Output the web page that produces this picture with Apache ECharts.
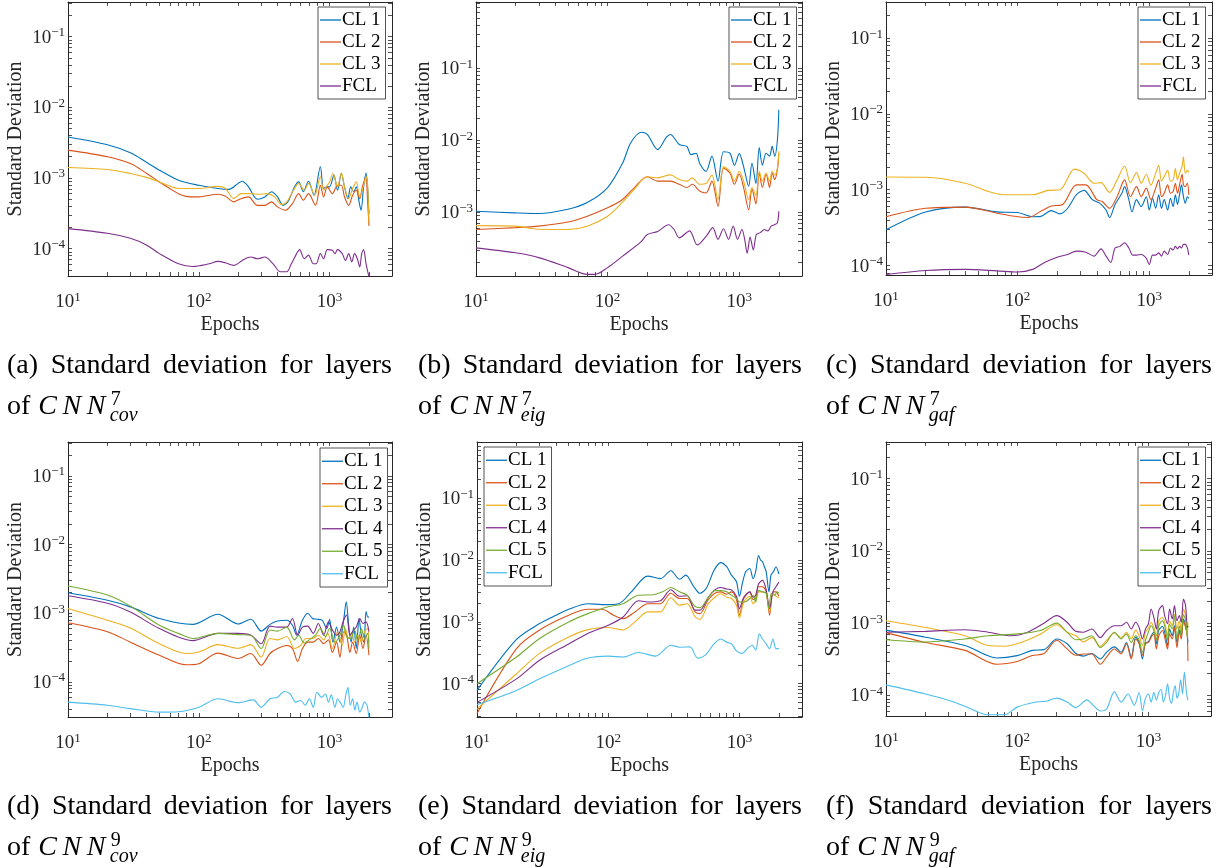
<!DOCTYPE html>
<html>
<head>
<meta charset="utf-8">
<title>Standard deviation for layers</title>
<script src="https://cdn.jsdelivr.net/npm/echarts@6/dist/echarts.min.js"></script>
<style>
  html, body { margin: 0; padding: 0; background: #ffffff; }
  #chart { width: 1223px; height: 868px; }
</style>
</head>
<body>
<div id="chart"></div>
<script>
// ---------- axis ranges and tick values ----------
const X_RANGE = [10, 3000];
const X_DECADES = [10, 100, 1000];
const Y_DECADES = [1e-5, 1e-4, 1e-3, 1e-2, 1e-1];
const TICK_MULTIPLES = [1, 2, 3, 4, 5, 6, 7, 8, 9];

const Y_RANGE_COV7 = [4.1e-5, 0.31];
const Y_RANGE_EIG7 = [1.3e-4, 0.83];
const Y_RANGE_GAF7 = [7.5e-5, 0.30];
const Y_RANGE_COV9 = [3.1e-5, 0.31];
const Y_RANGE_EIG9 = [2.9e-5, 0.81];
const Y_RANGE_GAF9 = [5.2e-5, 0.32];

// ---------- series: [epoch, standard deviation] ----------
// CNN^7, covariance input
const COV7_CL1 = [[10,3.8e-3],[20,2.95e-3],[30,2.27e-3],[40,1.66e-3],[50,1.29e-3],[70,9.3e-4],[100,7.9e-4],[140,7.1e-4],[170,6.9e-4],[200,8.4e-4],[215,9.0e-4],[240,7.5e-4],[280,5.0e-4],[320,5.4e-4],[360,6.4e-4],[400,5.4e-4],[440,4.1e-4],[480,4.6e-4],[540,7.5e-4],[580,8.8e-4],[630,6.4e-4],[690,9.0e-4],[760,5.7e-4],[850,1.44e-3],[900,7.1e-4],[960,7.5e-4],[1000,7.5e-4],[1080,1.1e-3],[1150,6.7e-4],[1230,1.16e-3],[1300,7.5e-4],[1380,5.1e-4],[1450,7.5e-4],[1530,6.4e-4],[1600,7.5e-4],[1680,4.6e-4],[1740,3.5e-4],[1820,7.5e-4],[1900,1.18e-3],[1950,7.5e-4],[2000,3.1e-4]];
const COV7_CL2 = [[10,2.48e-3],[20,2.0e-3],[30,1.6e-3],[40,1.16e-3],[50,8.8e-4],[60,7.1e-4],[70,6.0e-4],[80,5.5e-4],[100,5.4e-4],[140,5.9e-4],[160,5.5e-4],[185,4.6e-4],[210,5.1e-4],[240,5.4e-4],[280,4.1e-4],[320,4.1e-4],[360,4.6e-4],[400,3.9e-4],[460,3.5e-4],[520,4.35e-4],[580,6.0e-4],[630,4.85e-4],[690,6.0e-4],[780,4.1e-4],[850,7.9e-4],[900,5.4e-4],[960,7.5e-4],[1050,6.0e-4],[1150,7.9e-4],[1230,7.9e-4],[1300,5.4e-4],[1400,4.1e-4],[1500,5.7e-4],[1600,6.7e-4],[1700,5.1e-4],[1780,7.5e-4],[1850,9.3e-4],[1900,1.04e-3],[1950,4.85e-4],[2000,2.1e-4]];
const COV7_CL3 = [[10,1.41e-3],[20,1.32e-3],[30,1.16e-3],[40,1.02e-3],[50,8.8e-4],[70,7.1e-4],[100,7.1e-4],[140,7.6e-4],[160,7.1e-4],[185,5.1e-4],[210,6.0e-4],[250,6.0e-4],[290,5.9e-4],[330,6.0e-4],[380,5.4e-4],[430,4.2e-4],[470,4.6e-4],[530,6.7e-4],[580,8.4e-4],[640,6.7e-4],[690,8.4e-4],[770,5.7e-4],[850,1.04e-3],[900,6.7e-4],[960,7.9e-4],[1000,8.8e-4],[1060,1.16e-3],[1150,7.5e-4],[1230,1.18e-3],[1300,7.5e-4],[1400,5.1e-4],[1500,7.1e-4],[1600,8.8e-4],[1700,5.4e-4],[1780,6.7e-4],[1850,8.8e-4],[1900,1.04e-3],[1950,8.4e-4],[2000,2.3e-4]];
const COV7_FCL = [[10,1.92e-4],[20,1.65e-4],[30,1.4e-4],[40,1.12e-4],[50,8.5e-5],[70,6.1e-5],[90,5.6e-5],[120,6.1e-5],[140,6.6e-5],[160,6.3e-5],[185,5.8e-5],[220,7.0e-5],[250,7.6e-5],[280,7.2e-5],[320,7.6e-5],[370,6.1e-5],[420,4.7e-5],[470,4.7e-5],[510,6.1e-5],[560,8.5e-5],[590,9.7e-5],[640,7.2e-5],[690,8.1e-5],[750,6.1e-5],[790,6.1e-5],[850,8.5e-5],[900,7.2e-5],[960,9.7e-5],[1050,9.5e-5],[1100,8.5e-5],[1150,9.7e-5],[1250,8.5e-5],[1320,6.8e-5],[1400,8.5e-5],[1480,6.5e-5],[1550,8.5e-5],[1630,7.2e-5],[1700,5.5e-5],[1760,8.5e-5],[1820,9.7e-5],[1900,6.1e-5],[2000,4.0e-5]];

// CNN^7, eigenvalue input
const EIG7_CL1 = [[10,1.03e-3],[20,9.8e-4],[30,9.6e-4],[50,1.1e-3],[70,1.36e-3],[100,2.2e-3],[130,4.8e-3],[150,9.2e-3],[180,1.29e-2],[200,1.2e-2],[240,7.4e-3],[280,1.1e-2],[300,1.2e-2],[350,8.7e-3],[400,8.2e-3],[430,6.3e-3],[470,6.6e-3],[500,4.8e-3],[560,3.7e-3],[620,6.0e-3],[690,2.7e-3],[760,6.9e-3],[850,6.6e-3],[920,4.47e-3],[1000,6.5e-3],[1080,4.3e-3],[1180,2.29e-3],[1250,4.8e-3],[1340,2.5e-3],[1420,7.9e-3],[1500,4.5e-3],[1600,6.6e-3],[1700,6.0e-3],[1780,8.2e-3],[1860,6.0e-3],[1950,1.0e-2],[2000,2.65e-2]];
const EIG7_CL2 = [[10,5.75e-4],[20,6.1e-4],[30,6.4e-4],[50,7.3e-4],[70,8.8e-4],[100,1.15e-3],[130,1.5e-3],[160,2.2e-3],[200,3.1e-3],[240,2.7e-3],[300,2.7e-3],[350,2.44e-3],[400,2.2e-3],[440,2.44e-3],[500,1.97e-3],[560,1.85e-3],[620,2.7e-3],[690,1.21e-3],[760,4.1e-3],[850,3.5e-3],[920,2.44e-3],[1000,3.4e-3],[1080,2.2e-3],[1180,1.08e-3],[1250,2.1e-3],[1340,1.3e-3],[1420,3.5e-3],[1500,2.2e-3],[1600,3.4e-3],[1700,2.2e-3],[1780,3.5e-3],[1860,2.84e-3],[1950,3.9e-3],[2000,6.6e-3]];
const EIG7_CL3 = [[10,6.5e-4],[20,6.4e-4],[30,5.8e-4],[50,5.75e-4],[70,6.4e-4],[100,8.8e-4],[130,1.38e-3],[160,2.1e-3],[200,3.1e-3],[240,3.0e-3],[300,3.3e-3],[350,2.84e-3],[400,2.7e-3],[440,3.0e-3],[500,2.44e-3],[560,2.5e-3],[620,3.3e-3],[690,1.5e-3],[760,4.3e-3],[850,3.7e-3],[920,2.7e-3],[1000,3.7e-3],[1080,2.7e-3],[1180,1.5e-3],[1250,2.2e-3],[1340,1.7e-3],[1420,3.7e-3],[1500,2.7e-3],[1600,3.5e-3],[1700,2.7e-3],[1780,3.7e-3],[1860,3.3e-3],[1950,4.1e-3],[2000,7.0e-3]];
const EIG7_FCL = [[10,3.2e-4],[20,2.73e-4],[30,2.34e-4],[50,1.7e-4],[70,1.37e-4],[80,1.37e-4],[100,1.7e-4],[130,2.45e-4],[180,3.9e-4],[200,4.9e-4],[240,5.4e-4],[290,6.7e-4],[320,5.75e-4],[350,4.4e-4],[420,5.5e-4],[480,3.5e-4],[560,4.6e-4],[630,6.1e-4],[690,4.2e-4],[760,5.9e-4],[830,4.2e-4],[900,6.4e-4],[970,4.2e-4],[1050,5.75e-4],[1100,4.2e-4],[1150,2.7e-4],[1210,4.5e-4],[1280,3.0e-4],[1350,4.9e-4],[1450,5.2e-4],[1550,5.75e-4],[1650,5.5e-4],[1750,6.4e-4],[1850,6.7e-4],[1950,7.1e-4],[2000,1.03e-3]];

// CNN^7, GAF input
const GAF7_CL1 = [[10,2.97e-4],[20,5.1e-4],[40,5.9e-4],[70,5.1e-4],[100,5.0e-4],[130,4.4e-4],[150,4.45e-4],[180,5.3e-4],[210,4.8e-4],[240,5.7e-4],[280,8.6e-4],[320,9.8e-4],[370,7.4e-4],[420,6.65e-4],[470,5.4e-4],[500,4.3e-4],[550,6.4e-4],[620,9.0e-4],[650,1.1e-3],[700,7.4e-4],[740,5.1e-4],[800,7.4e-4],[870,6.0e-4],[950,8.1e-4],[1000,5.4e-4],[1060,7.7e-4],[1120,5.7e-4],[1180,8.6e-4],[1240,5.7e-4],[1300,7.4e-4],[1380,5.4e-4],[1450,7.7e-4],[1520,6.0e-4],[1580,8.6e-4],[1640,6.4e-4],[1700,8.6e-4],[1760,1.16e-3],[1820,8.1e-4],[1880,6.65e-4],[1950,8.1e-4],[2000,7.7e-4]];
const GAF7_CL2 = [[10,4.4e-4],[20,5.7e-4],[40,5.9e-4],[70,4.9e-4],[100,4.4e-4],[120,4.3e-4],[150,5.2e-4],[180,6.1e-4],[220,6.4e-4],[280,1.16e-3],[330,1.16e-3],[400,7.4e-4],[440,7.0e-4],[500,5.7e-4],[570,8.1e-4],[650,1.35e-3],[720,8.1e-4],[800,1.1e-3],[870,8.1e-4],[950,1.05e-3],[1030,7.4e-4],[1120,1.05e-3],[1180,1.35e-3],[1240,8.1e-4],[1300,9.0e-4],[1380,1.16e-3],[1450,9.0e-4],[1520,9.5e-4],[1580,1.22e-3],[1640,9.0e-4],[1700,1.16e-3],[1780,1.6e-3],[1820,1.16e-3],[1880,1.1e-3],[1950,1.22e-3],[2000,8.6e-4]];
const GAF7_CL3 = [[10,1.47e-3],[20,1.46e-3],[40,1.22e-3],[60,9.5e-4],[80,8.6e-4],[130,8.6e-4],[170,9.8e-4],[210,1.0e-3],[270,1.87e-3],[320,1.65e-3],[380,1.22e-3],[430,1.24e-3],[500,9.2e-4],[570,1.35e-3],[650,2.06e-3],[720,1.24e-3],[800,1.68e-3],[870,1.22e-3],[950,1.6e-3],[1030,1.15e-3],[1120,1.65e-3],[1180,2.1e-3],[1240,1.3e-3],[1300,1.49e-3],[1380,1.8e-3],[1450,1.3e-3],[1520,1.35e-3],[1580,1.9e-3],[1640,1.35e-3],[1700,1.65e-3],[1780,2.05e-3],[1820,2.73e-3],[1880,1.65e-3],[1950,1.8e-3],[2000,1.7e-3]];
const GAF7_FCL = [[10,7.6e-5],[20,8.6e-5],[40,8.9e-5],[70,8.5e-5],[100,8.2e-5],[130,8.9e-5],[160,1.1e-4],[200,1.29e-4],[240,1.4e-4],[280,1.55e-4],[330,1.5e-4],[380,1.33e-4],[430,1.66e-4],[470,1.33e-4],[510,1.1e-4],[550,1.7e-4],[600,1.79e-4],[650,2.0e-4],[700,1.7e-4],[750,1.37e-4],[800,1.37e-4],[870,1.4e-4],[950,1.25e-4],[1000,1.03e-4],[1060,1.37e-4],[1120,1.37e-4],[1180,1.47e-4],[1240,1.33e-4],[1300,1.55e-4],[1380,1.4e-4],[1450,1.7e-4],[1520,1.6e-4],[1580,1.79e-4],[1640,1.66e-4],[1700,1.79e-4],[1760,1.7e-4],[1820,1.9e-4],[1880,1.9e-4],[1950,1.7e-4],[2000,1.37e-4]];

// CNN^9, covariance input
const COV9_CL1 = [[10,1.99e-3],[20,1.55e-3],[30,1.24e-3],[50,8.4e-4],[90,6.9e-4],[140,9.7e-4],[200,7.0e-4],[250,8.2e-4],[300,5.5e-4],[350,6.9e-4],[400,7.7e-4],[470,7.9e-4],[520,6.7e-4],[560,4.8e-4],[620,7.9e-4],[680,1.0e-3],[740,8.4e-4],[800,8.2e-4],[880,7.9e-4],[950,6.0e-4],[1000,8.2e-4],[1060,3.8e-4],[1130,6.3e-4],[1200,3.8e-4],[1280,7.9e-4],[1340,1.47e-3],[1400,6.7e-4],[1460,3.8e-4],[1530,6.3e-4],[1600,3.07e-4],[1680,8.4e-4],[1750,4.8e-4],[1830,3.8e-4],[1900,1.06e-3],[1960,8.8e-4],[2000,8.8e-4]];
const COV9_CL2 = [[10,7.3e-4],[20,5.4e-4],[30,3.8e-4],[50,2.45e-4],[80,1.78e-4],[100,1.85e-4],[140,2.63e-4],[200,2.2e-4],[250,2.6e-4],[300,1.75e-4],[350,2.6e-4],[400,3.07e-4],[470,3.4e-4],[520,3.07e-4],[570,2.0e-4],[620,3.07e-4],[680,3.8e-4],[750,3.8e-4],[820,4.3e-4],[900,3.6e-4],[980,4.1e-4],[1050,2.7e-4],[1130,3.8e-4],[1200,2.3e-4],[1280,5.4e-4],[1350,4.8e-4],[1430,2.7e-4],[1500,3.8e-4],[1600,2.6e-4],[1700,4.8e-4],[1800,3.07e-4],[1900,4.8e-4],[2000,2.45e-4]];
const COV9_CL3 = [[10,1.17e-3],[20,7.9e-4],[30,6.1e-4],[50,3.6e-4],[80,2.6e-4],[100,2.74e-4],[140,3.5e-4],[200,3.1e-4],[250,3.5e-4],[300,2.3e-4],[350,4.3e-4],[400,4.1e-4],[470,4.6e-4],[540,3.07e-4],[600,3.4e-4],[660,4.3e-4],[740,4.3e-4],[820,4.8e-4],[900,4.1e-4],[970,5.1e-4],[1050,3.07e-4],[1150,5.4e-4],[1250,3.4e-4],[1320,6.0e-4],[1400,4.3e-4],[1480,5.1e-4],[1550,3.8e-4],[1650,4.8e-4],[1750,3.8e-4],[1850,5.4e-4],[1950,6.0e-4],[2000,3.8e-4]];
const COV9_CL4 = [[10,1.8e-3],[20,1.4e-3],[30,1.04e-3],[50,6.0e-4],[90,4.0e-4],[140,5.1e-4],[200,5.1e-4],[250,4.8e-4],[300,3.6e-4],[350,6.5e-4],[400,6.3e-4],[470,6.3e-4],[520,8.4e-4],[570,4.8e-4],[620,6.3e-4],[680,6.5e-4],[750,5.1e-4],[820,7.1e-4],[900,4.8e-4],[980,7.5e-4],[1050,5.7e-4],[1130,4.8e-4],[1200,5.4e-4],[1280,7.9e-4],[1350,9.4e-4],[1430,4.8e-4],[1500,5.4e-4],[1600,6.3e-4],[1700,8.4e-4],[1800,7.1e-4],[1900,7.5e-4],[2000,5.4e-4]];
const COV9_CL5 = [[10,2.49e-3],[20,1.84e-3],[30,1.27e-3],[50,6.7e-4],[70,5.1e-4],[90,4.3e-4],[140,5.1e-4],[200,4.9e-4],[250,4.8e-4],[300,3.07e-4],[350,5.7e-4],[400,5.5e-4],[470,6.3e-4],[540,4.1e-4],[580,4.8e-4],[640,3.7e-4],[700,4.1e-4],[780,4.8e-4],[850,6.0e-4],[930,4.6e-4],[1000,6.0e-4],[1100,3.8e-4],[1200,4.8e-4],[1280,6.7e-4],[1350,4.6e-4],[1450,4.3e-4],[1550,5.7e-4],[1650,4.0e-4],[1750,6.0e-4],[1850,4.3e-4],[1950,5.1e-4],[2000,3.07e-4]];
const COV9_FCL = [[10,5.1e-5],[20,4.6e-5],[30,4.1e-5],[50,3.65e-5],[70,3.7e-5],[100,4.3e-5],[140,5.7e-5],[200,5.0e-5],[260,5.5e-5],[300,4.3e-5],[350,5.7e-5],[400,6.0e-5],[450,7.3e-5],[500,6.7e-5],[550,5.1e-5],[600,5.4e-5],[650,4.6e-5],[700,5.7e-5],[750,4.3e-5],[800,7.1e-5],[870,6.0e-5],[930,6.7e-5],[980,5.1e-5],[1030,6.5e-5],[1100,4.3e-5],[1150,5.7e-5],[1200,5.1e-5],[1270,4.3e-5],[1330,6.5e-5],[1380,8.4e-5],[1440,4.6e-5],[1500,5.7e-5],[1560,3.9e-5],[1620,5.1e-5],[1700,3.65e-5],[1760,4.1e-5],[1850,5.1e-5],[1930,4.6e-5],[2000,3.0e-5]];

// CNN^9, eigenvalue input
const EIG9_CL1 = [[10,7.8e-5],[20,5.2e-4],[30,9.4e-4],[40,1.28e-3],[50,1.6e-3],[70,1.97e-3],[90,1.9e-3],[120,1.97e-3],[150,3.06e-3],[200,5.5e-3],[250,5.0e-3],[300,6.7e-3],[350,4.9e-3],[390,5.7e-3],[450,3.7e-3],[500,2.9e-3],[560,3.5e-3],[640,6.8e-3],[720,9.1e-3],[800,7.8e-3],[870,5.7e-3],[950,4.46e-3],[1000,2.6e-3],[1060,4.46e-3],[1120,6.5e-3],[1200,7.3e-3],[1270,5.0e-3],[1330,6.5e-3],[1400,1.18e-2],[1450,1.0e-2],[1500,9.4e-3],[1550,7.8e-3],[1600,6.5e-3],[1680,3.06e-3],[1740,5.7e-3],[1820,6.5e-3],[1900,7.8e-3],[2000,5.9e-3]];
const EIG9_CL2 = [[10,3.3e-5],[20,3.7e-4],[30,7.4e-4],[50,1.28e-3],[70,1.6e-3],[90,1.6e-3],[110,1.28e-3],[130,1.13e-3],[160,1.45e-3],[200,1.97e-3],[250,1.97e-3],[300,2.9e-3],[350,2.39e-3],[400,2.39e-3],[460,1.45e-3],[500,1.36e-3],[580,2.3e-3],[650,2.9e-3],[720,3.06e-3],[800,2.8e-3],[870,3.06e-3],[950,2.3e-3],[1000,1.28e-3],[1080,2.39e-3],[1200,3.06e-3],[1270,2.3e-3],[1330,2.39e-3],[1400,3.7e-3],[1500,3.7e-3],[1600,3.06e-3],[1700,1.28e-3],[1800,3.06e-3],[1900,3.06e-3],[2000,2.6e-3]];
const EIG9_CL3 = [[10,3.9e-5],[20,1.45e-4],[30,3.1e-4],[50,5.7e-4],[70,7.5e-4],[100,8.1e-4],[130,7.4e-4],[160,1.0e-3],[200,1.45e-3],[250,1.45e-3],[300,2.46e-3],[350,1.86e-3],[400,1.97e-3],[460,1.2e-3],[500,1.1e-3],[580,1.97e-3],[650,2.5e-3],[720,2.85e-3],[800,2.5e-3],[870,2.39e-3],[950,1.86e-3],[1000,1.16e-3],[1080,2.1e-3],[1200,2.6e-3],[1270,1.97e-3],[1330,2.2e-3],[1400,3.06e-3],[1500,3.06e-3],[1600,2.9e-3],[1700,1.45e-3],[1800,2.9e-3],[1900,2.6e-3],[2000,2.46e-3]];
const EIG9_CL4 = [[10,5.0e-5],[20,1.2e-4],[30,2.4e-4],[50,4.4e-4],[70,6.5e-4],[100,8.8e-4],[130,1.2e-3],[170,2.2e-3],[200,2.1e-3],[250,2.2e-3],[300,3.3e-3],[350,2.6e-3],[400,2.65e-3],[460,1.55e-3],[500,1.55e-3],[580,2.5e-3],[650,3.3e-3],[720,3.6e-3],[800,3.4e-3],[870,3.3e-3],[950,2.6e-3],[1000,1.64e-3],[1080,2.5e-3],[1200,3.06e-3],[1270,2.5e-3],[1330,2.7e-3],[1400,4.1e-3],[1500,4.7e-3],[1600,3.3e-3],[1700,1.64e-3],[1800,3.06e-3],[1900,3.7e-3],[2000,4.4e-3]];
const EIG9_CL5 = [[10,1.0e-4],[20,2.7e-4],[30,5.4e-4],[50,1.0e-3],[70,1.36e-3],[100,1.76e-3],[130,1.97e-3],[170,2.7e-3],[220,2.75e-3],[260,3.06e-3],[300,3.6e-3],[350,3.06e-3],[400,2.7e-3],[460,1.76e-3],[500,1.7e-3],[580,2.5e-3],[650,3.2e-3],[720,3.2e-3],[800,3.06e-3],[870,2.7e-3],[950,2.39e-3],[1000,2.1e-3],[1100,2.1e-3],[1200,2.39e-3],[1270,2.7e-3],[1330,2.1e-3],[1400,3.2e-3],[1500,3.06e-3],[1600,2.9e-3],[1680,1.64e-3],[1750,2.9e-3],[1850,2.7e-3],[1950,3.06e-3],[2000,2.9e-3]];
const EIG9_FCL = [[10,4.6e-5],[20,7.8e-5],[30,1.2e-4],[50,1.96e-4],[70,2.6e-4],[100,2.8e-4],[130,2.7e-4],[170,3.2e-4],[230,2.8e-4],[300,4.2e-4],[350,3.9e-4],[420,3.95e-4],[480,2.6e-4],[550,2.9e-4],[640,4.4e-4],[720,5.3e-4],[800,4.7e-4],[870,4.4e-4],[950,3.4e-4],[1050,3.1e-4],[1150,3.7e-4],[1250,4.2e-4],[1330,3.5e-4],[1420,6.4e-4],[1500,5.3e-4],[1600,4.4e-4],[1700,3.7e-4],[1800,5.3e-4],[1900,3.7e-4],[2000,3.7e-4]];

// CNN^9, GAF input
const GAF9_CL1 = [[10,8.0e-4],[20,6.4e-4],[40,4.9e-4],[70,3.3e-4],[100,3.56e-4],[130,4.2e-4],[160,4.3e-4],[200,6.05e-4],[240,5.2e-4],[280,3.8e-4],[320,3.5e-4],[370,3.8e-4],[430,3.2e-4],[480,3.96e-4],[550,4.7e-4],[620,3.96e-4],[680,5.4e-4],[740,3.4e-4],[800,6.4e-4],[850,5.4e-4],[900,3.2e-4],[950,5.4e-4],[1000,5.5e-4],[1050,6.7e-4],[1100,7.5e-4],[1150,5.2e-4],[1200,8.0e-4],[1280,9.0e-4],[1330,7.5e-4],[1400,4.9e-4],[1450,8.3e-4],[1520,6.7e-4],[1580,9.2e-4],[1650,5.4e-4],[1720,8.0e-4],[1780,6.7e-4],[1850,1.14e-3],[1920,9.2e-4],[1980,6.7e-4],[2000,5.4e-4]];
const GAF9_CL2 = [[10,7.4e-4],[20,5.4e-4],[40,4.2e-4],[70,2.7e-4],[100,2.95e-4],[130,3.56e-4],[160,3.8e-4],[200,5.8e-4],[240,4.4e-4],[280,3.6e-4],[320,3.75e-4],[370,3.75e-4],[430,2.7e-4],[480,3.4e-4],[550,4.4e-4],[620,3.75e-4],[680,5.2e-4],[740,3.2e-4],[800,6.05e-4],[850,5.2e-4],[900,3.6e-4],[950,5.2e-4],[1000,5.4e-4],[1050,6.4e-4],[1100,7.1e-4],[1150,4.4e-4],[1200,6.7e-4],[1280,7.9e-4],[1330,6.4e-4],[1400,4.4e-4],[1450,7.1e-4],[1520,6.05e-4],[1580,8.7e-4],[1650,4.6e-4],[1720,7.5e-4],[1780,6.05e-4],[1850,1.08e-3],[1920,8.7e-4],[1980,6.7e-4],[2000,3.0e-4]];
const GAF9_CL3 = [[10,1.08e-3],[20,8.7e-4],[40,6.7e-4],[60,4.9e-4],[80,4.8e-4],[110,5.5e-4],[150,7.0e-4],[200,9.5e-4],[240,7.5e-4],[280,6.7e-4],[320,5.5e-4],[370,6.3e-4],[430,4.8e-4],[480,5.8e-4],[550,7.3e-4],[620,6.3e-4],[680,7.5e-4],[740,6.05e-4],[800,8.0e-4],[850,6.7e-4],[900,4.9e-4],[950,7.5e-4],[1000,8.5e-4],[1050,1.03e-3],[1100,8.7e-4],[1150,6.7e-4],[1200,1.08e-3],[1280,1.2e-3],[1330,1.03e-3],[1400,6.7e-4],[1450,1.08e-3],[1520,9.2e-4],[1580,1.33e-3],[1650,8.3e-4],[1720,1.08e-3],[1780,8.0e-4],[1850,1.57e-3],[1920,1.27e-3],[1980,6.7e-4],[2000,1.03e-3]];
const GAF9_CL4 = [[10,7.5e-4],[20,7.7e-4],[40,8.1e-4],[60,7.5e-4],[90,6.7e-4],[120,7.5e-4],[160,1.0e-3],[200,1.27e-3],[240,1.03e-3],[280,7.7e-4],[320,7.5e-4],[370,8.3e-4],[430,6.3e-4],[480,7.9e-4],[550,9.2e-4],[620,9.2e-4],[680,1.03e-3],[740,8.3e-4],[800,1.03e-3],[850,8.7e-4],[900,6.05e-4],[950,8.3e-4],[1000,9.8e-4],[1050,1.57e-3],[1100,1.2e-3],[1150,8.3e-4],[1200,1.5e-3],[1280,1.75e-3],[1330,1.27e-3],[1400,9.8e-4],[1450,1.57e-3],[1520,1.14e-3],[1580,1.75e-3],[1650,1.08e-3],[1720,1.27e-3],[1780,1.03e-3],[1850,2.16e-3],[1920,1.75e-3],[1980,8.7e-4],[2000,9.2e-4]];
const GAF9_CL5 = [[10,5.9e-4],[20,5.5e-4],[40,6.05e-4],[60,6.7e-4],[100,7.1e-4],[150,7.9e-4],[200,1.0e-3],[240,7.5e-4],[280,5.9e-4],[320,6.05e-4],[370,6.7e-4],[430,4.6e-4],[480,5.4e-4],[550,7.5e-4],[620,6.05e-4],[680,7.1e-4],[740,5.4e-4],[800,6.7e-4],[850,5.8e-4],[900,3.96e-4],[950,5.8e-4],[1000,7.5e-4],[1050,9.2e-4],[1100,7.9e-4],[1150,5.8e-4],[1200,9.2e-4],[1280,1.08e-3],[1330,9.2e-4],[1400,5.8e-4],[1450,9.6e-4],[1520,8.3e-4],[1580,1.27e-3],[1650,6.05e-4],[1720,9.2e-4],[1780,6.7e-4],[1850,1.3e-3],[1920,1.1e-3],[1980,6.7e-4],[2000,6.3e-4]];
const GAF9_FCL = [[10,1.4e-4],[20,1.05e-4],[30,8.6e-5],[40,7.1e-5],[60,5.4e-5],[80,5.4e-5],[100,6.9e-5],[140,8.1e-5],[170,8.4e-5],[200,9.2e-5],[240,8.1e-5],[280,6.8e-5],[340,8.7e-5],[380,7.3e-5],[430,6.1e-5],[480,6.5e-5],[550,1.12e-4],[620,8.1e-5],[700,1.05e-4],[780,7.3e-5],[850,1.1e-4],[900,6.1e-5],[950,9.2e-5],[1000,1.05e-4],[1050,8.1e-5],[1100,1.1e-4],[1150,8.6e-5],[1200,1.1e-4],[1250,1.22e-4],[1300,8.1e-5],[1350,1.0e-4],[1400,1.45e-4],[1450,9.2e-5],[1500,7.8e-5],[1550,1.1e-4],[1600,1.37e-4],[1650,9.2e-5],[1700,1.05e-4],[1760,1.65e-4],[1820,1.05e-4],[1880,2.1e-4],[1950,1.1e-4],[2000,8.6e-5]];

// ---------- styling ----------
const SERIF = 'Liberation Serif';
const AXIS_COLOR = '#262626';
const C_BLUE = '#0072BD', C_ORANGE = '#D95319', C_YELLOW = '#EDB120',
      C_PURPLE = '#7E2F8E', C_GREEN = '#77AC30', C_CYAN = '#4DBEEE';

// panel layout (pixel boxes of the plotting areas, legends and captions)
const PANELS = [
  { key: 'a', grid: { left: 68, top: 2, width: 324, height: 274 }, yRange: Y_RANGE_COV7,
    legend: { left: 318, top: 7, lineHeight: 22 },
    caption: { tag: '(a)', x0: 7, x1: 392, base: 375, sup: '7', sub: 'cov' },
    lines: [['CL 1', COV7_CL1, C_BLUE], ['CL 2', COV7_CL2, C_ORANGE], ['CL 3', COV7_CL3, C_YELLOW], ['FCL', COV7_FCL, C_PURPLE]] },
  { key: 'b', grid: { left: 476, top: 2, width: 326, height: 274 }, yRange: Y_RANGE_EIG7,
    legend: { left: 729, top: 7, lineHeight: 22 },
    caption: { tag: '(b)', x0: 418, x1: 802, base: 375, sup: '7', sub: 'eig' },
    lines: [['CL 1', EIG7_CL1, C_BLUE], ['CL 2', EIG7_CL2, C_ORANGE], ['CL 3', EIG7_CL3, C_YELLOW], ['FCL', EIG7_FCL, C_PURPLE]] },
  { key: 'c', grid: { left: 886, top: 2, width: 326, height: 273 }, yRange: Y_RANGE_GAF7,
    legend: { left: 1138, top: 7, lineHeight: 22 },
    caption: { tag: '(c)', x0: 826, x1: 1212, base: 375, sup: '7', sub: 'gaf' },
    lines: [['CL 1', GAF7_CL1, C_BLUE], ['CL 2', GAF7_CL2, C_ORANGE], ['CL 3', GAF7_CL3, C_YELLOW], ['FCL', GAF7_FCL, C_PURPLE]] },
  { key: 'd', grid: { left: 68, top: 442, width: 324, height: 275 }, yRange: Y_RANGE_COV9,
    legend: { left: 320, top: 448, lineHeight: 22.5 },
    caption: { tag: '(d)', x0: 7, x1: 392, base: 816, sup: '9', sub: 'cov' },
    lines: [['CL 1', COV9_CL1, C_BLUE], ['CL 2', COV9_CL2, C_ORANGE], ['CL 3', COV9_CL3, C_YELLOW], ['CL 4', COV9_CL4, C_PURPLE], ['CL 5', COV9_CL5, C_GREEN], ['FCL', COV9_FCL, C_CYAN]] },
  { key: 'e', grid: { left: 477, top: 442, width: 325, height: 275 }, yRange: Y_RANGE_EIG9,
    legend: { left: 484, top: 447, lineHeight: 22.5 },
    caption: { tag: '(e)', x0: 418, x1: 802, base: 816, sup: '9', sub: 'eig' },
    lines: [['CL 1', EIG9_CL1, C_BLUE], ['CL 2', EIG9_CL2, C_ORANGE], ['CL 3', EIG9_CL3, C_YELLOW], ['CL 4', EIG9_CL4, C_PURPLE], ['CL 5', EIG9_CL5, C_GREEN], ['FCL', EIG9_FCL, C_CYAN]] },
  { key: 'f', grid: { left: 886, top: 442, width: 325, height: 274 }, yRange: Y_RANGE_GAF9,
    legend: { left: 1138, top: 447, lineHeight: 22.5 },
    caption: { tag: '(f)', x0: 826, x1: 1212, base: 816, sup: '9', sub: 'gaf' },
    lines: [['CL 1', GAF9_CL1, C_BLUE], ['CL 2', GAF9_CL2, C_ORANGE], ['CL 3', GAF9_CL3, C_YELLOW], ['CL 4', GAF9_CL4, C_PURPLE], ['CL 5', GAF9_CL5, C_GREEN], ['FCL', GAF9_FCL, C_CYAN]] }
];

// ---------- helpers ----------
const withMinor = decades => decades.flatMap(d => TICK_MULTIPLES.map(m => Number((d * m).toPrecision(2))));
const X_TICKS = withMinor(X_DECADES);
const Y_TICKS = withMinor(Y_DECADES);

function powerLabel(value) {
  const p = Math.round(Math.log10(value));
  const exp = p < 0 ? '\u2212' + (-p) : String(p);
  return '{b|10}{e|' + exp + '}';
}
const LABEL_RICH = {
  b: { fontFamily: SERIF, fontSize: 19, color: AXIS_COLOR, lineHeight: 21, verticalAlign: 'bottom' },
  e: { fontFamily: SERIF, fontSize: 13, color: AXIS_COLOR, lineHeight: 13, verticalAlign: 'top' }
};

function baseAxis(gridIndex, range, ticks, position) {
  return {
    type: 'log', logBase: 10, gridIndex, position,
    min: range[0], max: range[1],
    splitLine: { show: false },
    axisLine: { show: true, onZero: false, lineStyle: { color: AXIS_COLOR, width: 1 } },
    axisTick: { show: true, inside: true, length: 4, customValues: ticks, lineStyle: { color: AXIS_COLOR, width: 0.8 } },
    axisLabel: { show: false },
    axisPointer: { show: false }
  };
}

const measureCtx = document.createElement('canvas').getContext('2d');
function textWidth(str, size, italic) {
  measureCtx.font = (italic ? 'italic ' : '') + size + 'px "' + SERIF + '"';
  return measureCtx.measureText(str).width;
}
function textEl(text, x, baseline, size, italic) {
  return {
    type: 'text', x, y: baseline - 0.34 * size, silent: true,
    style: { text, fontFamily: SERIF, fontSize: size, fontStyle: italic ? 'italic' : 'normal',
             fill: '#000', align: 'left', verticalAlign: 'middle' }
  };
}

// caption: justified first line, math-style second line
function captionElements(c) {
  const els = [];
  const SIZE = 28, SCRIPT = 20;
  const words = [c.tag, 'Standard', 'deviation', 'for', 'layers'];
  const widths = words.map(w => textWidth(w, SIZE));
  const gap = (c.x1 - c.x0 - widths.reduce((s, w) => s + w, 0)) / (words.length - 1);
  let x = c.x0;
  words.forEach((w, i) => { els.push(textEl(w, x, c.base, SIZE)); x += widths[i] + gap; });

  const base2 = c.base + 41;
  els.push(textEl('of', c.x0, base2, SIZE));
  let cx = c.x0 + textWidth('of ', SIZE) + 1;
  ['C', 'N', 'N'].forEach(ch => { els.push(textEl(ch, cx, base2, SIZE, true)); cx += textWidth(ch, SIZE, true) + 5.5; });
  els.push(textEl(c.sup, cx, base2 - 9, SCRIPT));
  els.push(textEl(c.sub, cx - 1, base2 + 7, SCRIPT, true));
  return els;
}

// ---------- option ----------
const grids = [], xAxes = [], yAxes = [], series = [], legends = [], graphics = [];

PANELS.forEach((p, i) => {
  grids.push({ left: p.grid.left, top: p.grid.top, width: p.grid.width, height: p.grid.height, containLabel: false });

  const xBottom = baseAxis(i, X_RANGE, X_TICKS, 'bottom');
  xBottom.axisLabel = { show: true, customValues: X_DECADES, formatter: powerLabel, rich: LABEL_RICH, margin: 15 };
  xBottom.name = 'Epochs';
  xBottom.nameLocation = 'middle';
  xBottom.nameGap = 39;
  xBottom.nameTextStyle = { fontFamily: SERIF, fontSize: 20, color: AXIS_COLOR, lineHeight: 20 };
  const xTop = baseAxis(i, X_RANGE, X_TICKS, 'top');
  xAxes.push(xBottom, xTop);

  const yLeft = baseAxis(i, p.yRange, Y_TICKS, 'left');
  yLeft.axisLabel = { show: true, customValues: Y_DECADES, formatter: powerLabel, rich: LABEL_RICH, margin: 3 };
  yLeft.name = 'Standard Deviation';
  yLeft.nameLocation = 'middle';
  yLeft.nameGap = 42;
  yLeft.nameTextStyle = { fontFamily: SERIF, fontSize: 20, color: AXIS_COLOR, lineHeight: 20 };
  const yRight = baseAxis(i, p.yRange, Y_TICKS, 'right');
  yAxes.push(yLeft, yRight);

  const names = [];
  p.lines.forEach(([label, data, color]) => {
    const name = p.key + ':' + label;
    names.push(name);
    series.push({
      type: 'line', name, data,
      xAxisIndex: 2 * i, yAxisIndex: 2 * i,
      symbol: 'none', showSymbol: false, smooth: 0.3, clip: true,
      lineStyle: { color, width: 1.1 }, itemStyle: { color },
      emphasis: { disabled: true }, silent: true
    });
  });

  legends.push({
    data: names, orient: 'vertical', left: p.legend.left, top: p.legend.top,
    icon: 'rect', itemWidth: 21, itemHeight: 1.3, itemGap: 0, selectedMode: false,
    formatter: n => n.slice(n.indexOf(':') + 1),
    textStyle: { fontFamily: SERIF, fontSize: 19, color: '#000', lineHeight: p.legend.lineHeight, padding: [0, 0, 0, -4] },
    backgroundColor: '#ffffff', borderColor: AXIS_COLOR, borderWidth: 0.8, borderRadius: 0,
    padding: [2, 5, 2, 2]
  });

  graphics.push(...captionElements(p.caption));
});

const chart = echarts.init(document.getElementById('chart'), null, { renderer: 'canvas' });
chart.setOption({
  animation: false,
  backgroundColor: '#ffffff',
  grid: grids,
  xAxis: xAxes,
  yAxis: yAxes,
  legend: legends,
  series,
  graphic: { elements: graphics }
});
</script>
</body>
</html>
